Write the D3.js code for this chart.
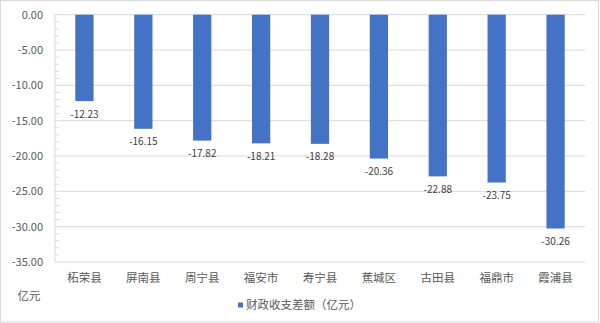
<!DOCTYPE html>
<html>
<head>
<meta charset="utf-8">
<script src="https://cdn.jsdelivr.net/npm/d3@7"></script>
<style>
  body { margin: 0; background: #fff; }
  text { font-family: "Noto Sans CJK SC", "Liberation Sans", sans-serif; }
</style>
</head>
<body>
<div class="barChart"></div>
<script>
const categories = ["柘荣县", "屏南县", "周宁县", "福安市", "寿宁县", "蕉城区", "古田县", "福鼎市", "霞浦县"];
const values = [-12.23, -16.15, -17.82, -18.21, -18.28, -20.36, -22.88, -23.75, -30.26];
const yTicks = [0, -5, -10, -15, -20, -25, -30, -35];
const seriesName = "财政收支差额（亿元）";
const unitLabel = "亿元";

const width = 600, height = 323;
const margin = { top: 14.7, right: 15, bottom: 61, left: 55 };
const innerW = width - margin.left - margin.right;
const innerH = height - margin.top - margin.bottom;

const svg = d3.select(".barChart")
  .append("svg")
  .attr("width", width)
  .attr("height", height);

// chart border
svg.append("rect")
  .attr("x", 0.5).attr("y", 0.5)
  .attr("width", width - 2).attr("height", height - 1.5)
  .attr("fill", "none").attr("stroke", "#d9d9d9");

const g = svg.append("g")
  .attr("transform", "translate(" + margin.left + "," + margin.top + ")");

const x = d3.scaleBand().domain(categories).range([0, innerW]).paddingInner(0.69).paddingOuter(0.345);
const xLab = d3.scaleBand().domain(categories).range([0, innerW]);
const y = d3.scaleLinear().domain([0, -35]).range([0, innerH]);

// gridlines
g.selectAll(".grid")
  .data(yTicks)
  .enter()
  .append("line")
  .attr("x1", 0).attr("x2", innerW)
  .attr("y1", d => y(d)).attr("y2", d => y(d))
  .attr("stroke", "#d9d9d9").attr("stroke-width", 1);

// vertical axis line and minor ticks
g.append("line")
  .attr("x1", 0).attr("x2", 0)
  .attr("y1", 0).attr("y2", innerH)
  .attr("stroke", "#d9d9d9");

g.selectAll(".minor")
  .data(d3.range(0, -36, -1).filter(v => v % 5 !== 0))
  .enter()
  .append("line")
  .attr("x1", 0).attr("x2", 4)
  .attr("y1", d => y(d)).attr("y2", d => y(d))
  .attr("stroke", "#d9d9d9");

// y tick labels
g.selectAll(".ylab")
  .data(yTicks)
  .enter()
  .append("text")
  .attr("x", -12)
  .attr("y", d => y(d))
  .attr("dy", "0.35em")
  .attr("text-anchor", "end")
  .attr("font-size", 11)
  .attr("fill", "#595959")
  .text(d => d3.format(".2f")(d).replace("−", "-"));

// bars
g.selectAll(".bar")
  .data(values)
  .enter()
  .append("rect")
  .attr("x", (d, i) => x(categories[i]))
  .attr("y", y(0))
  .attr("width", x.bandwidth())
  .attr("height", d => y(d) - y(0))
  .attr("fill", "#4472c4");

// data labels
g.selectAll(".vlab")
  .data(values)
  .enter()
  .append("text")
  .attr("x", (d, i) => xLab(categories[i]) + xLab.bandwidth() / 2)
  .attr("y", d => y(d) + 13)
  .attr("dy", "0.35em")
  .attr("text-anchor", "middle")
  .attr("font-size", 10)
  .attr("fill", "#404040")
  .text(d => d3.format(".2f")(d).replace("−", "-"));

// category labels
g.selectAll(".xlab")
  .data(categories)
  .enter()
  .append("text")
  .attr("x", d => xLab(d) + xLab.bandwidth() / 2)
  .attr("y", innerH + 16)
  .attr("dy", "0.35em")
  .attr("text-anchor", "middle")
  .attr("font-size", 11.5)
  .attr("fill", "#595959")
  .text(d => d);

// unit label
svg.append("text")
  .attr("x", 29).attr("y", 296)
  .attr("dy", "0.35em")
  .attr("text-anchor", "middle")
  .attr("font-size", 11.5)
  .attr("fill", "#595959")
  .text(unitLabel);

// legend
const legend = svg.append("g").attr("transform", "translate(238,305)");
legend.append("rect")
  .attr("x", 0).attr("y", -2.5)
  .attr("width", 5).attr("height", 5)
  .attr("fill", "#4472c4");
legend.append("text")
  .attr("x", 8).attr("y", 0)
  .attr("dy", "0.35em")
  .attr("font-size", 11.5)
  .attr("fill", "#595959")
  .text(seriesName);
</script>
</body>
</html>
